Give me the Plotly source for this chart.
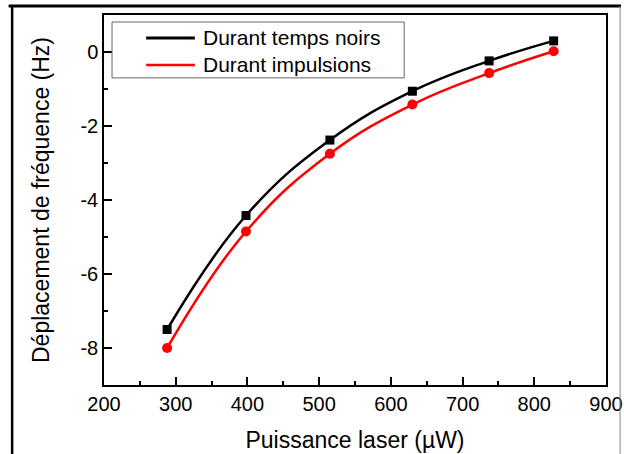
import plotly.graph_objects as go

# puissance laser (µW)
puissance = [288, 398, 515, 630, 737, 827]
# décalage de fréquence (Hz)
temps_noirs = [-7.5, -4.42, -2.38, -1.06, -0.24, 0.3]
impulsions = [-8.0, -4.85, -2.75, -1.42, -0.57, 0.02]

y_ticks = [0, -2, -4, -6, -8]
y_labels = ['0', '-2', '-4', '-6', '-8']

noms = ['Durant temps noirs', 'Durant impulsions']
couleurs = ['black', 'red']

police = 'Liberation Sans, Arial, sans-serif'

fig = go.Figure()
fig.add_trace(go.Scatter(x=puissance, y=temps_noirs, mode='lines+markers', name=noms[0],
                         line=dict(color='black', width=2.5, shape='spline', smoothing=1.2),
                         marker=dict(symbol='square', size=9, color='black')))
fig.add_trace(go.Scatter(x=puissance, y=impulsions, mode='lines+markers', name=noms[1],
                         line=dict(color='red', width=2.5, shape='spline', smoothing=1.2),
                         marker=dict(symbol='circle', size=10, color='red')))

axe = dict(showline=True, linecolor='black', linewidth=1.5, mirror=True,
           ticks='inside', ticklen=8, tickwidth=1.5, tickcolor='black',
           showgrid=False, zeroline=False, automargin=False,
           tickfont=dict(family=police, size=20, color='black'))

fig.update_xaxes(range=[200, 900], dtick=100,
                 minor=dict(ticks='inside', ticklen=4, tickwidth=1.5, dtick=50, tickcolor='black'),
                 title=dict(text='Puissance laser (µW)', standoff=18,
                            font=dict(family=police, size=23, color='black')),
                 **axe)
fig.update_yaxes(range=[-9, 1], tickvals=y_ticks, ticktext=y_labels,
                 minor=dict(ticks='inside', ticklen=4, tickwidth=1.5, dtick=1, tickcolor='black'),
                 title=dict(text='Déplacement de fréquence (Hz)', standoff=24,
                            font=dict(family=police, size=23, color='black')),
                 **axe)

# cadre extérieur
shapes = [
    dict(type='line', xref='paper', yref='paper', x0=-0.19, x1=1.03, y0=1.024, y1=1.024,
         line=dict(color='black', width=3)),
    dict(type='line', xref='paper', yref='paper', x0=-0.183, x1=-0.183, y0=-0.2, y1=1.024,
         line=dict(color='black', width=2.5)),
    dict(type='line', xref='paper', yref='paper', x0=1.028, x1=1.028, y0=-0.2, y1=1.024,
         line=dict(color='#888', width=1)),
    # boîte de légende
    dict(type='rect', xref='paper', yref='paper', x0=0.016, x1=0.598, y0=0.83, y1=0.981,
         fillcolor='white', line=dict(color='#666', width=1), layer='above'),
]
annotations = []
for i, (nom, c) in enumerate(zip(noms, couleurs)):
    yl = 0.938 - i * 0.073
    shapes.append(dict(type='line', xref='paper', yref='paper', x0=0.084, x1=0.181,
                       y0=yl, y1=yl, line=dict(color=c, width=3 if i == 0 else 2.5),
                       layer='above'))
    annotations.append(dict(text=nom, xref='paper', yref='paper', x=0.193, y=yl,
                            xanchor='left', yanchor='middle', showarrow=False,
                            font=dict(family=police, size=21, color='black')))

fig.update_layout(
    width=624, height=454,
    margin=dict(l=104, r=18, t=15, b=69),
    plot_bgcolor='white', paper_bgcolor='white',
    showlegend=False,
    shapes=shapes,
    annotations=annotations,
)

fig.write_html("out.html", config={'displayModeBar': False},
               post_script="document.body.style.margin='0';")
